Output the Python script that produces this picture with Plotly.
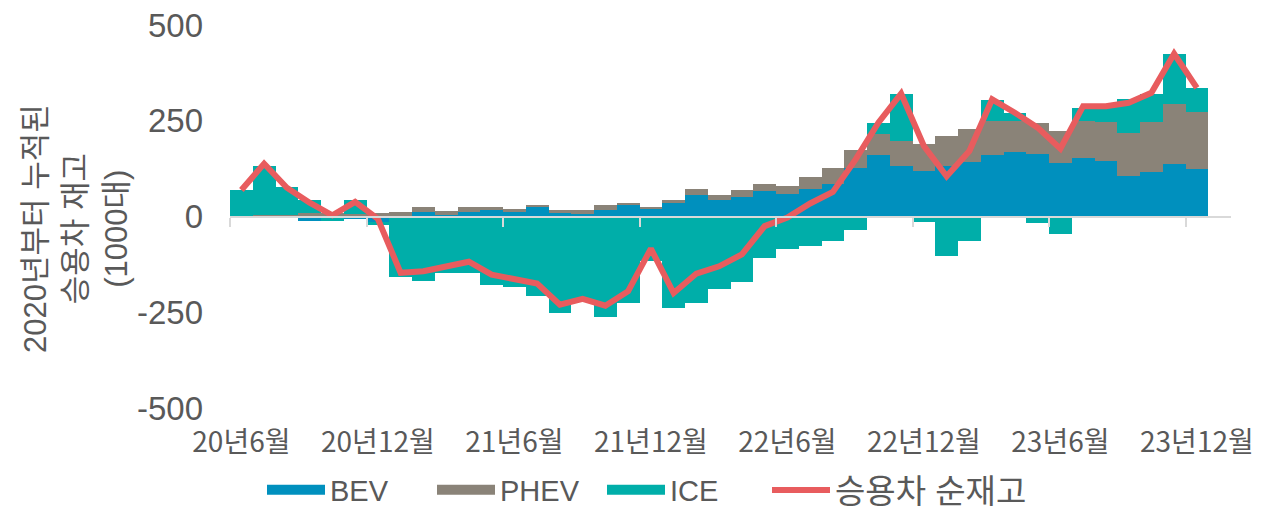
import plotly.graph_objects as go

months = [f"{y}년{m}월" for y, m in
          [(20, m) for m in range(6, 13)] + [(y, m) for y in (21, 22, 23) for m in range(1, 13)]]

bev = [0, 0, -4, -12, -2, -6, -14, 0, 11, 5, 12, 18, 12, 25, 8, 6, 18, 29, 20, 36, 57, 42,
       51, 66, 59, 73, 86, 126, 160, 133, 119, 133, 143, 160, 169, 163, 140, 153, 146, 105,
       116, 136, 123]
phev = [2, 3, 5, 8, 8, 7, 10, 11, 13, 10, 13, 7, 8, 6, 10, 10, 11, 7, 5, 6, 15, 13,
        18, 20, 20, 30, 40, 47, 56, 64, 71, 77, 86, 89, 80, 80, 83, 96, 101, 112,
        131, 157, 150]
ice = [67, 130, 73, 35, -10, 36, -9, -157, -169, -147, -147, -178, -184, -208, -251, -221,
       -262, -227, -117, -239, -226, -189, -172, -108, -84, -76, -65, -34, 27, 124, -14,
       -104, -65, 54, 20, -18, -45, 35, 40, 89, 74, 132, 63]
net = [69, 138, 75, 36, 3, 38, -6, -147, -143, -130, -118, -152, -165, -175, -230, -215,
       -233, -195, -84, -200, -149, -130, -99, -25, -3, 34, 64, 149, 245, 321, 184,
       105, 171, 306, 271, 232, 177, 288, 288, 297, 323, 425, 336]

y_ticks = [-500, -250, 0, 250, 500]

x = list(range(len(months)))
tick_pos = x[::6]
tick_text = months[::6]

GREY = "#595959"
KFONT = "Liberation Sans, Noto Sans CJK KR, sans-serif"

fig = go.Figure()
for name, vals, color in [("BEV", bev, "#0090BE"), ("PHEV", phev, "#8A8378"), ("ICE", ice, "#00AEA9")]:
    fig.add_trace(go.Bar(x=x, y=vals, name=name, marker=dict(color=color, line=dict(width=0)),
                         showlegend=False))
    # legend proxy with wide rectangle swatch
    fig.add_trace(go.Scatter(x=[None], y=[None], mode="lines", name=name,
                             line=dict(color=color, width=18)))

fig.add_trace(go.Scatter(x=x, y=net, mode="lines", name="승용차 순재고", legend="legend2",
                         line=dict(color="#E85C5E", width=6)))

# zero axis line with tick marks between categories
fig.add_trace(go.Scatter(x=[], y=[], xaxis="x2", showlegend=False, hoverinfo="skip"))

fig.add_annotation(text="2020년부터 누적된<br>승용차 재고<br>(1000대)", textangle=-90,
                   xref="paper", yref="paper", x=-154 / 1001, y=(408 - 229) / 383,
                   xanchor="center", yanchor="middle", showarrow=False,
                   font=dict(family=KFONT, size=31, color=GREY))

fig.update_layout(
    width=1272, height=509,
    margin=dict(l=230, r=41, t=25, b=101),
    plot_bgcolor="white", paper_bgcolor="white",
    barmode="relative", bargap=0,
    font=dict(family=KFONT, color=GREY),
    xaxis=dict(range=[-0.5, 43.5], tickvals=tick_pos, ticktext=tick_text, showgrid=False,
               zeroline=False, showline=False, ticks="", ticklabelstandoff=15, automargin=False,
               tickfont=dict(family="Noto Sans CJK KR", size=28, color=GREY)),
    xaxis2=dict(range=[-0.5, 43.5], overlaying="x", anchor="free", position=0.5,
                showline=True, linecolor="#D9D9D9", linewidth=2, ticks="outside",
                ticklen=9, tickwidth=2, tickcolor="#D9D9D9", tickvals=[-0.5 + 6 * k for k in range(8)],
                showticklabels=False, showgrid=False, zeroline=False, automargin=False),
    yaxis=dict(range=[-500, 500], tickvals=y_ticks, ticktext=[str(v) for v in y_ticks],
               showgrid=False, zeroline=False, showline=False, ticklabelstandoff=26,
               automargin=False,
               tickfont=dict(family="Liberation Sans", size=33, color=GREY)),
    legend=dict(orientation="h", xref="container", yref="container", x=262 / 1272, y=19 / 509,
                xanchor="left", yanchor="middle", font=dict(family=KFONT, size=29, color=GREY),
                itemwidth=58, entrywidth=97, tracegroupgap=0),
    legend2=dict(orientation="h", xref="container", yref="container", x=767 / 1272, y=19 / 509,
                 xanchor="left", yanchor="middle", font=dict(family=KFONT, size=33, color=GREY),
                 itemwidth=58),
)

fig.write_html("out.html", post_script="document.body.style.margin='0';",
               config={"displayModeBar": False})
